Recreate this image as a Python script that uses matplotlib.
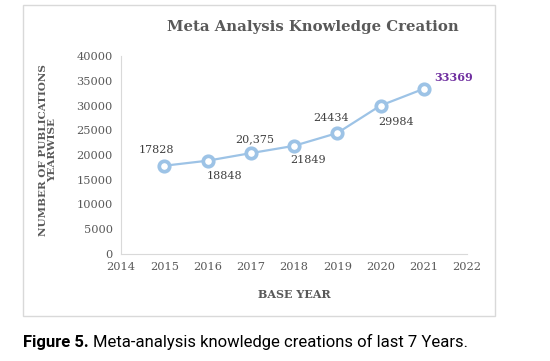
import matplotlib.pyplot as plt
from matplotlib.patches import Rectangle

# publication counts per year
years = [2015, 2016, 2017, 2018, 2019, 2020, 2021]
counts = [17828, 18848, 20375, 21849, 24434, 29984, 33369]
point_labels = ['17828', '18848', '20,375', '21849', '24434', '29984', '33369']
# where each label sits relative to its point (pixels)
label_offsets = [(-8, 16), (17, -15), (4, 14), (14, -14), (-6, 15), (16, -16), (30, 11)]
x_ticks = [2014, 2015, 2016, 2017, 2018, 2019, 2020, 2021, 2022]
y_ticks = [0, 5000, 10000, 15000, 20000, 25000, 30000, 35000, 40000]

serif = 'DejaVu Serif'
gray = '#595959'

fig = plt.figure(figsize=(5.5, 3.61), dpi=100)
fig.patches.append(Rectangle((23 / 550, 1 - 316 / 361), 472 / 550, 311 / 361,
                             transform=fig.transFigure, fill=False,
                             edgecolor='#d9d9d9', linewidth=1))

ax = fig.add_axes([121 / 550, 1 - 254 / 361, 346 / 550, 198 / 361])
ax.plot(years, counts, color='#9dc3e6', linewidth=1.6, marker='o',
        markersize=7.5, markerfacecolor='white', markeredgecolor='#9dc3e6',
        markeredgewidth=2.7)

for i in range(len(years)):
    is_last = i == len(years) - 1
    ax.annotate(point_labels[i], (years[i], counts[i]), xytext=label_offsets[i],
                textcoords='offset pixels', ha='center', va='center',
                fontsize=8, family=serif,
                color='#7030a0' if is_last else '#404040',
                fontweight='bold' if is_last else 'normal')

ax.set_xlim(2014, 2022)
ax.set_ylim(0, 40000)
ax.set_xticks(x_ticks)
ax.set_yticks(y_ticks)
ax.tick_params(length=0, labelsize=8.2, labelcolor=gray, pad=6)
for lab in ax.get_xticklabels() + ax.get_yticklabels():
    lab.set_family(serif)
for s in ['top', 'right']:
    ax.spines[s].set_visible(False)
for s in ['left', 'bottom']:
    ax.spines[s].set_color('#d9d9d9')

ax.set_xlabel('BASE YEAR', family=serif, fontweight='bold', fontsize=8,
              color=gray, labelpad=12)
fig.text(48 / 550, 1 - 150 / 361, 'NUMBER OF PUBLICATIONS\nYEARWISE',
         rotation=90, ha='center', va='center', family=serif,
         fontweight='bold', fontsize=7.5, color=gray, linespacing=1.1)
fig.text(313 / 550, 1 - 27 / 361, 'Meta Analysis Knowledge Creation',
         ha='center', va='center', family=serif, fontweight='bold',
         fontsize=10.7, color=gray)

cap_font = ['Liberation Sans Narrow', 'Roboto', 'DejaVu Sans']
t = fig.text(23 / 550, 1 - 342 / 361, 'Figure 5.', ha='left', va='center',
             family=cap_font, fontweight='bold', fontsize=12, color='black')
fig.canvas.draw()
bb = t.get_window_extent()
fig.text((bb.x1 + 4) / 550, 1 - 342 / 361,
         'Meta-analysis knowledge creations of last 7 Years.', ha='left',
         va='center', family=cap_font, fontsize=12, color='black')

fig.savefig('out.png', dpi=100)
